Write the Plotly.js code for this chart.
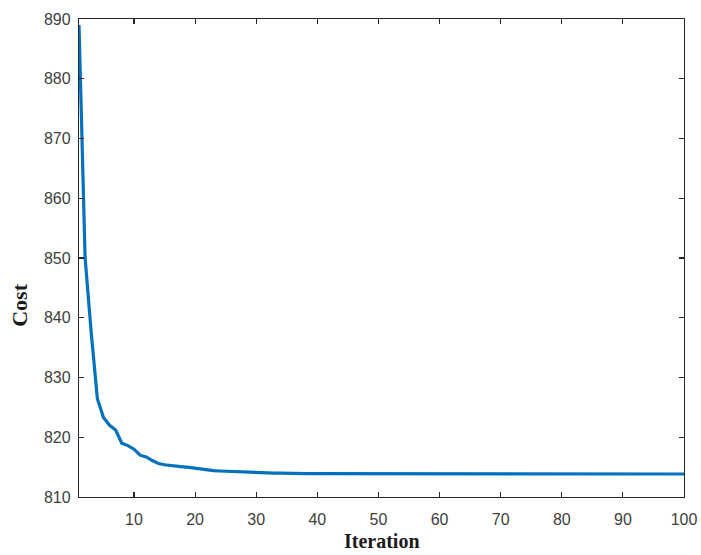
<!DOCTYPE html>
<html>
<head>
<meta charset="utf-8">
<script src="https://cdn.plot.ly/plotly-3.0.1.min.js"></script>
<style>html,body{margin:0;padding:0;background:#fff;}#chart{width:701px;height:555px;}</style>
</head>
<body>
<div id="chart"></div>
<script>
const iterations = Array.from({length: 100}, (_, i) => i + 1);
const cost = [
  889.0, 850.0, 837.5, 826.5, 823.3, 822.0, 821.2, 819.0, 818.6, 818.0,
  817.0, 816.7, 816.1, 815.6, 815.4, 815.25, 815.15, 815.05, 814.95, 814.8,
  814.6, 814.5, 814.4, 814.35, 814.3, 814.25, 814.2, 814.15, 814.1, 814.1,
  814.05, 814.05, 814.0, 814.0, 813.95, 813.95, 813.9, 813.9, 813.9, 813.9,
  813.9, 813.9, 813.85, 813.85, 813.85, 813.85, 813.85, 813.85, 813.85, 813.85,
  813.85, 813.85, 813.85, 813.85, 813.85, 813.85, 813.85, 813.85, 813.85, 813.85,
  813.85, 813.85, 813.85, 813.85, 813.85, 813.85, 813.85, 813.85, 813.85, 813.85,
  813.85, 813.85, 813.85, 813.85, 813.85, 813.85, 813.85, 813.85, 813.85, 813.85,
  813.85, 813.85, 813.85, 813.85, 813.85, 813.85, 813.85, 813.85, 813.85, 813.85,
  813.85, 813.85, 813.85, 813.85, 813.85, 813.85, 813.85, 813.85, 813.85, 813.85
];
const xTicks = [10, 20, 30, 40, 50, 60, 70, 80, 90, 100];
const yTicks = [810, 820, 830, 840, 850, 860, 870, 880, 890];
const xLabel = 'Iteration';
const yLabel = 'Cost';

const axisCommon = {
  showgrid: false,
  zeroline: false,
  showline: true,
  linecolor: '#262626',
  linewidth: 1.2,
  mirror: 'ticks',
  ticks: 'inside',
  ticklen: 5,
  tickwidth: 1.2,
  tickcolor: '#262626',
  tickfont: {family: 'Liberation Sans, Arial, sans-serif', size: 16, color: '#404040'}
};

Plotly.newPlot('chart', [{
  x: iterations,
  y: cost,
  type: 'scatter',
  mode: 'lines',
  line: {color: '#0072BD', width: 3.2},
  hoverinfo: 'skip'
}], {
  width: 701,
  height: 555,
  margin: {l: 79, r: 17, t: 19, b: 58},
  paper_bgcolor: '#ffffff',
  plot_bgcolor: '#ffffff',
  showlegend: false,
  xaxis: Object.assign({}, axisCommon, {
    range: [1, 100],
    tickvals: xTicks,
    ticktext: xTicks.map(String),
    ticklabelstandoff: 8
  }),
  yaxis: Object.assign({}, axisCommon, {
    range: [810, 890],
    tickvals: yTicks,
    ticktext: yTicks.map(String),
    ticklabelstandoff: 4
  }),
  annotations: [
    {text: '<b>' + xLabel + '</b>', xref: 'paper', yref: 'paper', x: 0.5, y: 0, yshift: -57,
     xanchor: 'center', yanchor: 'bottom', showarrow: false,
     font: {family: 'Liberation Serif, Times New Roman, serif', size: 20, color: '#1a1a1a'}},
    {text: '<b>' + yLabel + '</b>', xref: 'paper', yref: 'paper', x: 0, xshift: -59, y: 0.40,
     xanchor: 'center', yanchor: 'middle', textangle: -90, showarrow: false,
     font: {family: 'Liberation Serif, Times New Roman, serif', size: 22, color: '#1a1a1a'}}
  ]
}, {displayModeBar: false, staticPlot: true});
</script>
</body>
</html>
